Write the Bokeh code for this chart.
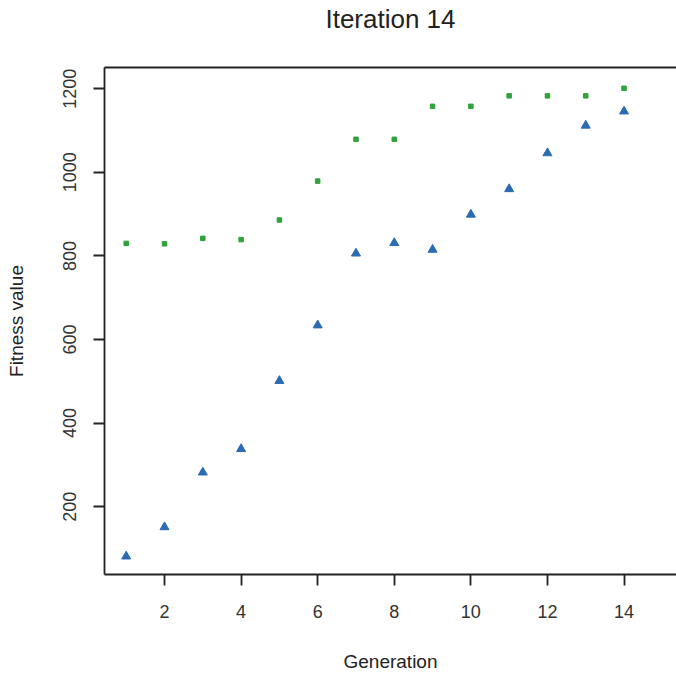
from bokeh.plotting import figure
from bokeh.models import LinearAxis, FixedTicker, Range1d
from bokeh.embed import file_html
from bokeh.resources import INLINE

generation = [1, 2, 3, 4, 5, 6, 7, 8, 9, 10, 11, 12, 13, 14]
best_fitness = [830, 829, 842, 839, 886, 979, 1079, 1079, 1158, 1158, 1183, 1183, 1183, 1201]
mean_fitness = [81, 151, 282, 338, 501, 634, 806, 831, 815, 899, 960, 1046, 1112, 1146]
x_ticks = [2, 4, 6, 8, 10, 12, 14]
y_ticks = [200, 400, 600, 800, 1000, 1200]
title_text = "Iteration 14"

FONT = "Liberation Sans"

p = figure(width=676, height=675, output_backend="svg", toolbar_location=None,
           x_range=Range1d(0.433, 15.37), y_range=Range1d(37.6, 1250.9),
           x_axis_location=None, y_axis_location=None,
           min_border_left=104, min_border_right=0, min_border_top=66, min_border_bottom=101)
p.grid.visible = False
p.outline_line_color = None
p.background_fill_color = "white"
p.border_fill_color = "white"

LINE = "#222222"

xaxis = LinearAxis(ticker=FixedTicker(ticks=x_ticks), axis_label="Generation")
yaxis = LinearAxis(ticker=FixedTicker(ticks=y_ticks), axis_label="Fitness value")
# top border of the box, carrying the chart title as its label
top = LinearAxis(ticker=FixedTicker(ticks=[]), axis_label=title_text)
for ax in (xaxis, yaxis, top):
    ax.axis_line_color = LINE
    ax.axis_line_width = 1.8
    ax.major_tick_line_color = LINE
    ax.major_tick_line_width = 1.8
    ax.major_tick_out = 11
    ax.major_tick_in = 0
    ax.minor_tick_line_color = None
    ax.major_label_text_font = FONT
    ax.major_label_text_font_size = "18px"
    ax.major_label_text_color = "#333333"
    ax.axis_label_text_font = FONT
    ax.axis_label_text_font_size = "19px"
    ax.axis_label_text_font_style = "normal"
    ax.axis_label_text_color = "#222222"
top.major_label_text_font_size = "0px"
top.major_tick_line_color = None
top.major_tick_out = 0
top.major_label_standoff = 0
top.axis_label_text_font_size = "26px"
top.axis_label_standoff = 34

xaxis.major_label_standoff = 19
xaxis.axis_label_standoff = 30
yaxis.major_label_orientation = "vertical"
yaxis.major_label_standoff = 17
yaxis.axis_label_standoff = 34

p.add_layout(xaxis, "below")
p.add_layout(yaxis, "left")
p.add_layout(top, "above")

p.scatter(generation, best_fitness, marker="square", size=4.5,
          fill_color="#2fa33a", line_color="#2fa33a")
p.scatter(generation, mean_fitness, marker="triangle", size=9,
          fill_color="#2b6bb3", line_color="#2b6bb3")

open("out.html", "w").write(file_html(p, INLINE))
